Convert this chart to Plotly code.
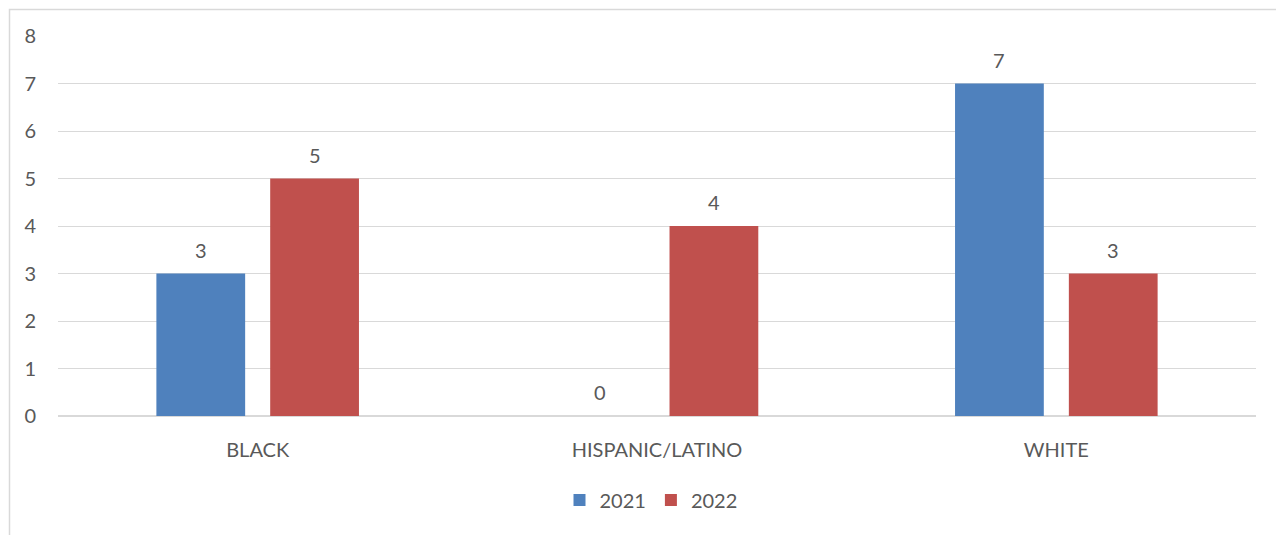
import plotly.graph_objects as go

categories = ["BLACK", "HISPANIC/LATINO", "WHITE"]
series_names = ["2021", "2022"]
values_2021 = [3, 0, 7]
values_2022 = [5, 4, 3]
colors = ["#4F81BD", "#C0504D"]

FONT = "Lato, 'Open Sans', sans-serif"
TXT = "#595959"
FS = 20

# page has an 8px body margin; compensate so the plot sits where the reference does
OFF = 8
W, H = 1284, 535
L, R, T, B = 58 - OFF, 28 + OFF, 36 - OFF, 119 + OFF
pw, ph = W - L - R, H - T - B

fig = go.Figure()
for name, vals, col in zip(series_names, [values_2021, values_2022], colors):
    fig.add_trace(go.Bar(
        x=categories, y=vals, name=name, marker=dict(color=col, line=dict(width=0)),
    ))

bargap, bargroupgap = 0.43, 0.22
cat_px = pw / len(categories)
slot_px = cat_px * (1 - bargap) / 2
annotations = []
for i, vals in enumerate([values_2021, values_2022]):
    shift = (i - 0.5) * slot_px
    for c, v in zip(categories, vals):
        annotations.append(dict(x=c, y=v, xref="x", yref="y", text=str(v), showarrow=False,
                                xshift=shift, yshift=10, yanchor="bottom",
                                font=dict(family=FONT, size=FS, color=TXT)))

fig.update_layout(
    width=W, height=H,
    margin=dict(l=L, r=R, t=T, b=B),
    paper_bgcolor="white", plot_bgcolor="white",
    barmode="group", bargap=bargap, bargroupgap=bargroupgap,
    font=dict(family=FONT, size=FS, color=TXT),
    showlegend=True,
    legend=dict(orientation="h", x=0.5 - 6 / pw, xanchor="center", y=(416 - 500) / ph, yanchor="middle",
                font=dict(family=FONT, size=FS, color=TXT), traceorder="normal"),
    xaxis=dict(showgrid=False, showline=False, ticks="", tickfont=dict(family=FONT, size=FS, color=TXT),
               ticklabelstandoff=20),
    yaxis=dict(range=[0, 8], dtick=1, showgrid=True, gridcolor="#D9D9D9", gridwidth=1,
               zeroline=True, zerolinecolor="#D9D9D9", zerolinewidth=1.5, showline=False,
               tickfont=dict(family=FONT, size=FS, color=TXT), ticklabelstandoff=21),
    annotations=annotations,
    shapes=[dict(type="rect", xref="paper", yref="paper",
                 x0=(9.5 - 58) / pw, x1=(W + 20 - 58) / pw,
                 y0=(416 - (H + 20)) / ph, y1=(416 - 9.5) / ph,
                 line=dict(color="#D9D9D9", width=1.5), fillcolor="rgba(0,0,0,0)", layer="below")],
)

fig.write_html("out.html")
